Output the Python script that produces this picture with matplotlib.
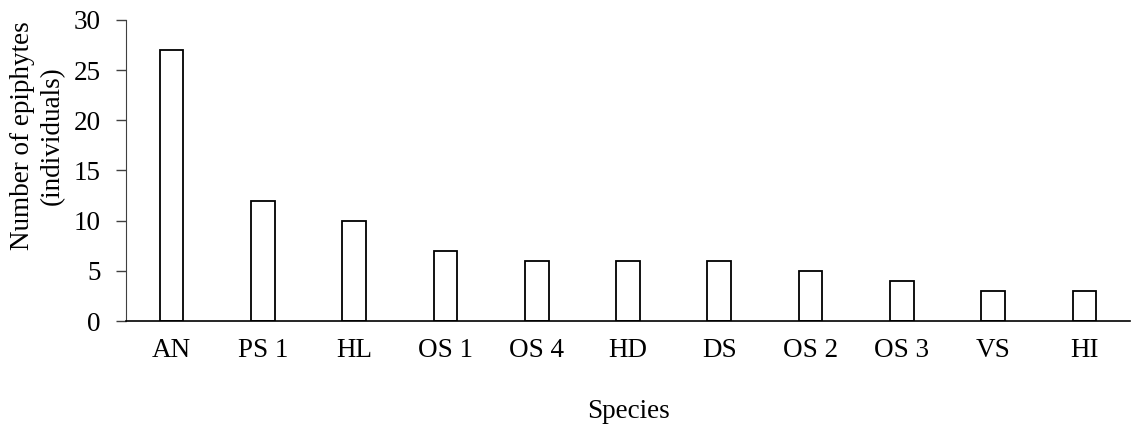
import numpy as np
from matplotlib import pyplot as plt

species = ['AN', 'PS 1', 'HL', 'OS 1', 'OS 4', 'HD', 'DS', 'OS 2', 'OS 3', 'VS', 'HI']
counts = [27, 12, 10, 7, 6, 6, 6, 5, 4, 3, 3]

plt.rcParams['font.family'] = 'Liberation Serif'
fs = 19.5

fig = plt.figure(figsize=(11.38, 4.25), dpi=100)
ax = fig.add_axes([0.1107, 0.2447, 0.8823, 0.7083])

x = np.arange(len(species))
ax.bar(x, counts, width=0.26, color='white', edgecolor='black', linewidth=1.3)
ax.set_xlim(-0.5, len(species) - 0.5)
ax.set_ylim(0, 30)
ax.set_yticks(np.arange(0, 31, 5))
ax.set_xticks(x)
ax.set_xticklabels(species)
ax.tick_params(axis='x', length=0, pad=12, labelsize=fs)
ax.tick_params(axis='y', length=7, width=1, color='#404040', labelsize=fs, pad=11)

for s in ['top', 'right']:
    ax.spines[s].set_visible(False)
ax.spines['left'].set_color('#404040')
ax.spines['bottom'].set_color('black')
ax.spines['bottom'].set_linewidth(1.2)

# y label sits a bit above the axes centre in the original
fig.text(37 / 1138, 1 - 136 / 425, 'Number of epiphytes\n(individuals)', fontsize=fs,
         rotation=90, ha='center', va='center', multialignment='center', linespacing=1.25)
ax.set_xlabel('Species', fontsize=fs, labelpad=26)

fig.savefig('out.png', dpi=100)
